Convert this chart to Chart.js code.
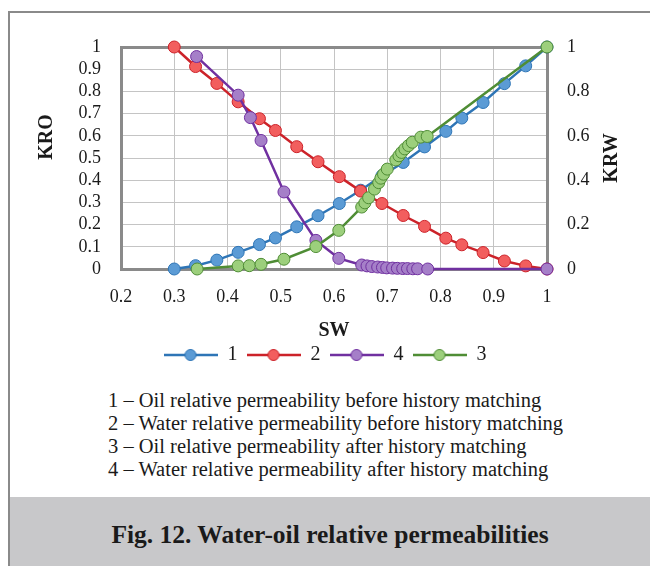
<!DOCTYPE html>
<html>
<head>
<meta charset="utf-8">
<script src="https://cdn.jsdelivr.net/npm/chart.js@4.4.1/dist/chart.umd.min.js"></script>
<style>
  body { margin: 0; width: 650px; height: 566px; background: #fff; position: relative; overflow: hidden; font-family: "Liberation Serif", serif; }
  #frame { position: absolute; left: 8px; top: 11px; width: 700px; height: 600px; border-left: 2px solid #8a8a8a; border-top: 2px solid #8a8a8a; }
  #chart { position: absolute; left: 0; top: 0; }
  #notes { position: absolute; left: 108px; top: 389px; font-size: 20.5px; line-height: 23px; color: #1a1a1a; white-space: nowrap; }
  #caption { position: absolute; left: 10px; top: 497px; width: 640px; height: 69px; background: #c8c8ca; font-weight: bold; font-size: 25.5px; text-align: center; line-height: 76px; color: #1a1a1a; white-space: nowrap; }
</style>
</head>
<body>
<div id="frame"></div>
<canvas id="chart" width="650" height="375"></canvas>
<div id="notes">
  1 – Oil relative permeability before history matching<br>
  2 – Water relative permeability before history matching<br>
  3 – Oil relative permeability after history matching<br>
  4 – Water relative permeability after history matching
</div>
<div id="caption">Fig. 12. Water-oil relative permeabilities</div>
<script>
// axis ticks
const xTicks = [0.2, 0.3, 0.4, 0.5, 0.6, 0.7, 0.8, 0.9, 1];
const xTickLabels = ["0.2", "0.3", "0.4", "0.5", "0.6", "0.7", "0.8", "0.9", "1"];
const kroTicks = [0, 0.1, 0.2, 0.3, 0.4, 0.5, 0.6, 0.7, 0.8, 0.9, 1];
const kroTickLabels = ["0", "0.1", "0.2", "0.3", "0.4", "0.5", "0.6", "0.7", "0.8", "0.9", "1"];
const krwTicks = [0, 0.2, 0.4, 0.6, 0.8, 1];
const krwTickLabels = ["0", "0.2", "0.4", "0.6", "0.8", "1"];

// series names, legend order as in the figure
const seriesNames = ["1", "2", "4", "3"];

// 1 - oil rel. perm before matching
const sw1 = [0.3, 0.34, 0.38, 0.42, 0.46, 0.49, 0.53, 0.57, 0.61, 0.65, 0.69, 0.73, 0.77, 0.81, 0.84, 0.88, 0.92, 0.96, 1.0];
const kr1 = [0, 0.015, 0.04, 0.075, 0.11, 0.14, 0.19, 0.24, 0.295, 0.355, 0.42, 0.48, 0.55, 0.62, 0.68, 0.75, 0.835, 0.915, 1.0];

// 2 - water rel. perm before matching
const sw2 = [0.3, 0.34, 0.38, 0.42, 0.46, 0.49, 0.53, 0.57, 0.61, 0.65, 0.69, 0.73, 0.77, 0.81, 0.84, 0.88, 0.92, 0.96, 1.0];
const kr2 = [1.0, 0.912, 0.836, 0.753, 0.677, 0.624, 0.551, 0.483, 0.416, 0.351, 0.295, 0.241, 0.192, 0.139, 0.109, 0.074, 0.036, 0.014, 0];

// 4 - water rel. perm after matching
const sw4 = [0.342, 0.42, 0.443, 0.463, 0.506, 0.566, 0.609, 0.652, 0.662, 0.671, 0.682, 0.691, 0.699, 0.71, 0.719, 0.729, 0.738, 0.748, 0.757, 0.776, 1.0];
const kr4 = [0.957, 0.783, 0.682, 0.579, 0.347, 0.129, 0.048, 0.018, 0.014, 0.011, 0.009, 0.007, 0.005, 0.004, 0.003, 0.002, 0.002, 0.001, 0.001, 0, 0];

// 3 - oil rel. perm after matching
const sw3 = [0.343, 0.42, 0.441, 0.463, 0.506, 0.566, 0.609, 0.652, 0.658, 0.665, 0.676, 0.684, 0.688, 0.693, 0.70, 0.716, 0.722, 0.727, 0.733, 0.74, 0.747, 0.763, 0.775, 1.0];
const kr3 = [0, 0.014, 0.015, 0.021, 0.044, 0.101, 0.174, 0.279, 0.298, 0.321, 0.36, 0.389, 0.409, 0.427, 0.45, 0.491, 0.51, 0.525, 0.541, 0.556, 0.571, 0.594, 0.597, 1.0];

const lineColors = ["#2e75b6", "#cc2229", "#7030a0", "#4f8d35"];
const fillColors = ["#5b9bd5", "#f25e5e", "#a57fc8", "#9ccf7c"];

function toPoints(xs, ys) {
    return xs.map((x, i) => ({ x: x, y: ys[i] }));
}

// little line + marker picture for the legend
function legendIcon(line, fill) {
    let c = document.createElement("canvas");
    c.width = 54;
    c.height = 14;
    let g = c.getContext("2d");
    g.strokeStyle = line;
    g.lineWidth = 2.5;
    g.beginPath();
    g.moveTo(0, 7);
    g.lineTo(54, 7);
    g.stroke();
    g.beginPath();
    g.arc(27, 7, 5.5, 0, Math.PI * 2);
    g.fillStyle = fill;
    g.fill();
    g.lineWidth = 1;
    g.stroke();
    return c;
}

const allData = [toPoints(sw1, kr1), toPoints(sw2, kr2), toPoints(sw4, kr4), toPoints(sw3, kr3)];
const drawOrder = [4, 3, 2, 1];

const datasets = allData.map((pts, i) => ({
    label: seriesNames[i],
    data: pts,
    borderColor: lineColors[i],
    backgroundColor: fillColors[i],
    pointBackgroundColor: fillColors[i],
    pointBorderColor: lineColors[i],
    pointBorderWidth: 1,
    pointRadius: 6,
    borderWidth: 2.5,
    tension: 0,
    clip: false,
    order: drawOrder[i],
    yAxisID: "y"
}));

const tickFont = { family: "Liberation Serif", size: 18 };
const titleFont = { family: "Liberation Serif", size: 20, weight: "bold" };

// both value-axis titles read bottom to top, like the original
const axisTitles = {
    id: "axisTitles",
    afterDraw(chart) {
        const ctx = chart.ctx;
        const area = chart.chartArea;
        ctx.save();
        ctx.font = "bold 20px 'Liberation Serif'";
        ctx.fillStyle = "#1a1a1a";
        ctx.textAlign = "center";
        ctx.textBaseline = "middle";
        [["KRO", 47, area.top + 90], ["KRW", 612, (area.top + area.bottom) / 2]].forEach(t => {
            ctx.save();
            ctx.translate(t[1], t[2]);
            ctx.rotate(-Math.PI / 2);
            ctx.fillText(t[0], 0, 0);
            ctx.restore();
        });
        ctx.restore();
    }
};

new Chart(document.getElementById("chart"), {
    type: "line",
    data: { datasets: datasets },
    plugins: [axisTitles],
    options: {
        responsive: false,
        animation: false,
        layout: { padding: { top: 47, left: 0, right: 0, bottom: 0 } },
        plugins: {
            tooltip: { enabled: false },
            legend: {
                position: "bottom",
                labels: {
                    font: { family: "Liberation Serif", size: 20 },
                    color: "#1a1a1a",
                    usePointStyle: true,
                    pointStyleWidth: 54,
                    padding: 9,
                    sort: (a, b) => a.datasetIndex - b.datasetIndex,
                    generateLabels: function (chart) {
                        let items = Chart.defaults.plugins.legend.labels.generateLabels(chart);
                        items.forEach(it => {
                            let k = it.datasetIndex;
                            it.pointStyle = legendIcon(lineColors[k], fillColors[k]);
                        });
                        return items;
                    }
                }
            }
        },
        scales: {
            x: {
                type: "linear",
                min: 0.2,
                max: 1,
                afterFit: s => { s.height = 67; },
                afterBuildTicks: s => { s.ticks = xTicks.map(v => ({ value: v })); },
                ticks: {
                    font: tickFont,
                    color: "#1a1a1a",
                    padding: 17,
                    autoSkip: false,
                    maxRotation: 0,
                    callback: (v, i) => xTickLabels[i]
                },
                grid: { color: "#c4c4c4", lineWidth: 1, drawTicks: false },
                border: { color: "#8a8a8a", width: 3 },
                title: { display: true, text: "SW", font: titleFont, color: "#1a1a1a", padding: { top: 0, bottom: -7 } }
            },
            y: {
                type: "linear",
                position: "left",
                min: 0,
                max: 1,
                afterFit: s => { s.width = 121; },
                afterBuildTicks: s => { s.ticks = kroTicks.map(v => ({ value: v })); },
                ticks: {
                    font: tickFont,
                    color: "#1a1a1a",
                    padding: 20,
                    autoSkip: false,
                    callback: (v, i) => kroTickLabels[i]
                },
                grid: {
                    drawTicks: false,
                    color: c => (c.tick && c.tick.value === 1) ? "#8a8a8a" : "#c4c4c4",
                    lineWidth: c => (c.tick && c.tick.value === 1) ? 3 : 1
                },
                border: { color: "#8a8a8a", width: 3 }
            },
            y1: {
                type: "linear",
                position: "right",
                min: 0,
                max: 1,
                afterFit: s => { s.width = 103; },
                afterBuildTicks: s => { s.ticks = krwTicks.map(v => ({ value: v })); },
                ticks: {
                    font: tickFont,
                    color: "#1a1a1a",
                    padding: 20,
                    autoSkip: false,
                    callback: (v, i) => krwTickLabels[i]
                },
                grid: { drawOnChartArea: false, drawTicks: false },
                border: { color: "#8a8a8a", width: 3 }
            }
        }
    }
});
</script>
</body>
</html>
